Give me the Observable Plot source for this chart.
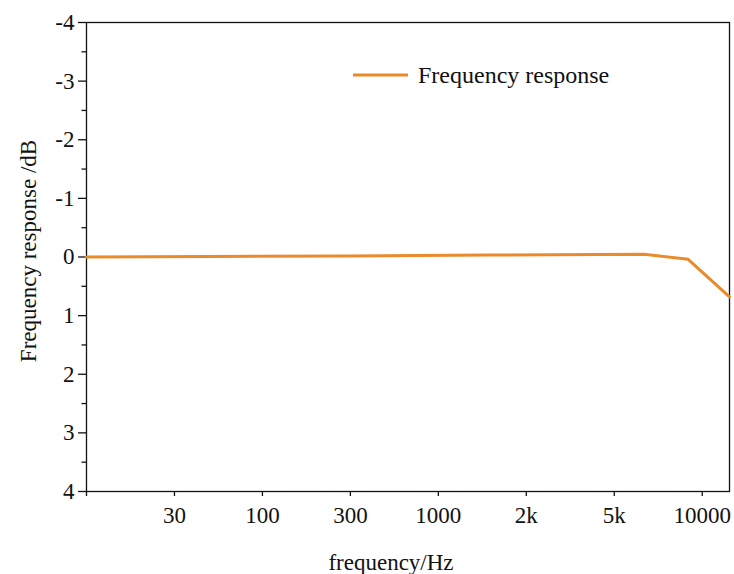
<!DOCTYPE html>
<html>
<head>
<meta charset="utf-8">
<script src="https://cdn.jsdelivr.net/npm/d3@7"></script>
<script src="https://cdn.jsdelivr.net/npm/@observablehq/plot@0.6"></script>
<style>
  html, body { margin: 0; padding: 0; background: #fff; }
  #wrap { position: relative; width: 734px; height: 574px; }
  #legend { position: absolute; left: 353px; top: 61px; height: 28px; display: flex; align-items: center;
            font-family: "Liberation Serif", "Times New Roman", serif; font-size: 24px; color: #111; white-space: nowrap; }
  #legend svg { margin-right: 10px; }
  svg text { font-family: "Liberation Serif", "Times New Roman", serif; }
  svg [aria-label$="tick label"], svg [aria-label$="tick label"] text { font-size: 23px; }
</style>
</head>
<body>
<div id="wrap"><div id="legend"></div></div>
<script>
// x tick labels (evenly spaced category positions on the frequency axis)
const tickLabels = ["", "30", "100", "300", "1000", "2k", "5k", "10000"];
// measured points: position along the tick axis, response in dB
const freqPos = [0, 1.41, 2.98, 4.57, 6.34, 6.84, 7.31];
const responseDb = [0.0, -0.01, -0.017, -0.034, -0.046, 0.04, 0.68];
const yMajor = [-4, -3, -2, -1, 0, 1, 2, 3, 4];
const yMinor = [-3.5, -2.5, -1.5, -0.5, 0.5, 1.5, 2.5, 3.5];
const seriesName = "Frequency response";
const lineColor = "#E98A2B";
const serif = "Liberation Serif, Times New Roman, serif";

const data = freqPos.map((p, i) => ({pos: p, db: responseDb[i]}));

const chart = Plot.plot({
  width: 734,
  height: 574,
  marginLeft: 86,
  marginRight: 5,
  marginTop: 22,
  marginBottom: 83,
  style: {fontFamily: serif, fontSize: "23px", color: "#111", background: "white", overflow: "visible"},
  x: {type: "linear", domain: [0, 7.31]},
  y: {type: "linear", domain: [-4, 4], reverse: true},
  marks: [
    Plot.frame({stroke: "#111", strokeWidth: 1.3}),
    Plot.axisX({ticks: d3.range(tickLabels.length), tickFormat: i => tickLabels[i], tickSize: 5, tickPadding: 10, label: null, strokeWidth: 1.3, fontSize: 23, fontFamily: serif, fontVariant: "normal"}),
    Plot.axisY({ticks: yMajor, tickFormat: d => String(d), tickSize: 8, tickPadding: 4, label: null, strokeWidth: 1.3, fontSize: 23, fontFamily: serif, fontVariant: "normal"}),
    Plot.axisY({ticks: yMinor, tickFormat: () => "", tickSize: 4.5, label: null, strokeWidth: 1.3}),
    Plot.line(data, {x: "pos", y: "db", stroke: lineColor, strokeWidth: 3}),
    Plot.text(["frequency/Hz"], {frameAnchor: "bottom", lineAnchor: "top", textAnchor: "middle", dy: 62, dx: -17, fontSize: 23, fontFamily: serif, fill: "#111"}),
    Plot.text(["Frequency response /dB"], {frameAnchor: "left", rotate: -90, textAnchor: "middle", dx: -58, dy: -6, fontSize: 23, fontFamily: serif, fill: "#111"})
  ]
});
document.getElementById("wrap").prepend(chart);

const legend = document.getElementById("legend");
legend.innerHTML = `<svg width="55" height="4"><line x1="0" x2="55" y1="2" y2="2" stroke="${lineColor}" stroke-width="3"/></svg><span>${seriesName}</span>`;
</script>
</body>
</html>
